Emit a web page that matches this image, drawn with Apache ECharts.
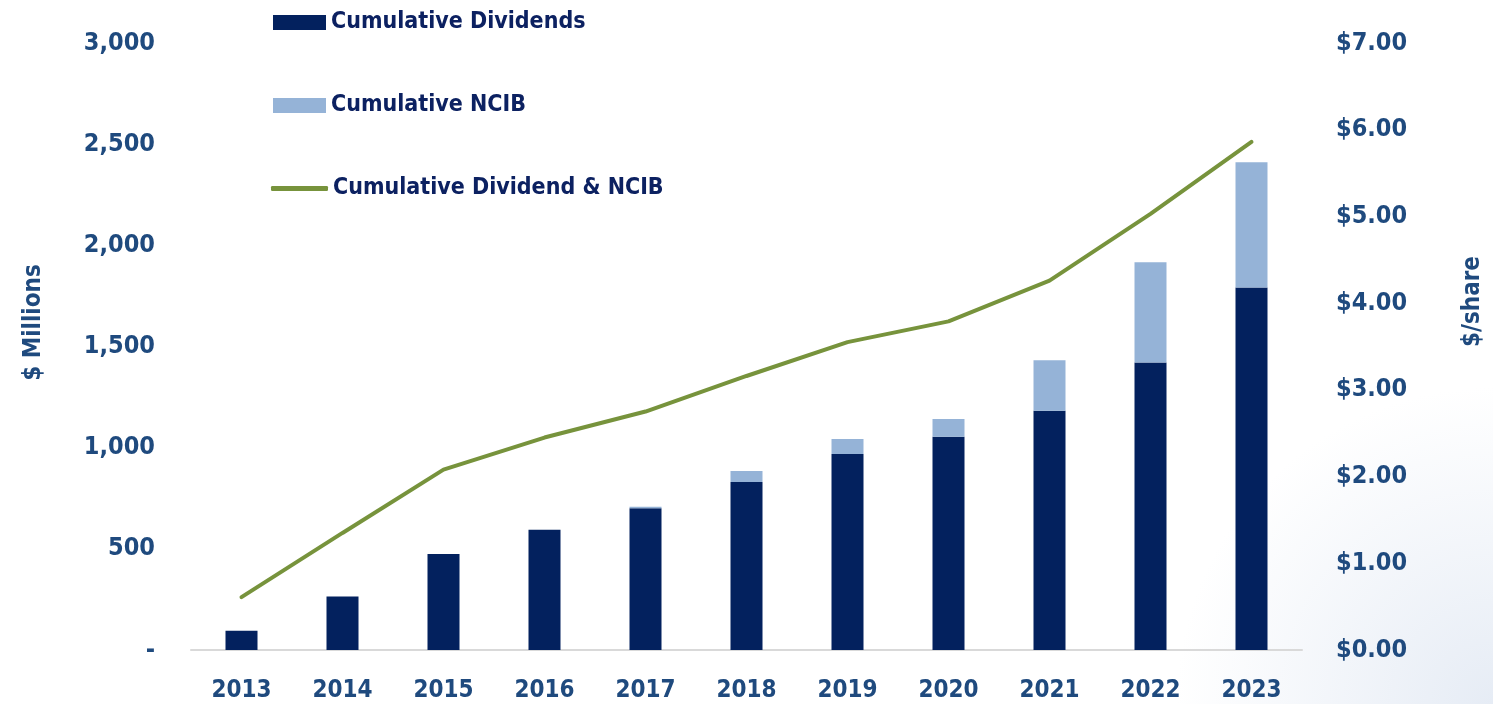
<!DOCTYPE html>
<html>
<head>
<meta charset="utf-8">
<script src="https://cdn.jsdelivr.net/npm/echarts@6/dist/echarts.min.js"></script>
<style>
  html, body { margin: 0; padding: 0; background: #fff; }
  #chart { width: 1493px; height: 704px; }
</style>
</head>
<body>
<div id="chart"></div>
<script>
const years = ['2013', '2014', '2015', '2016', '2017', '2018', '2019', '2020', '2021', '2022', '2023']
const dividends = [95, 264, 475, 594, 700, 830, 969, 1054, 1183, 1421, 1792]
const ncib = [0, 0, 0, 0, 8, 55, 74, 88, 249, 495, 619]
const perShare = [0.61, 1.35, 2.08, 2.45, 2.75, 3.16, 3.55, 3.79, 4.26, 5.03, 5.86]

const font = "'Liberation Sans Narrow', 'Arial Narrow', 'DejaVu Sans Condensed', sans-serif"
const labelColor = '#1F4A7E'
const legendText = { fontFamily: font, fontWeight: 'bold', fontSize: 23, color: '#0C2161' }

const chart = echarts.init(document.getElementById('chart'))
chart.setOption({
  backgroundColor: {
    type: 'radial', x: 1, y: 1, r: 0.45,
    colorStops: [
      { offset: 0, color: '#E6ECF5' },
      { offset: 1, color: '#FFFFFF' }
    ]
  },
  textStyle: { fontFamily: font, fontWeight: 'bold' },
  grid: { left: 191, right: 180, top: 43, bottom: 54 },
  legend: [
    {
      orient: 'vertical',
      left: 268,
      top: 6,
      itemWidth: 53,
      itemHeight: 15,
      itemGap: 60,
      textStyle: legendText,
      data: [
        { name: 'Cumulative Dividends', icon: 'rect' },
        { name: 'Cumulative NCIB', icon: 'rect' }
      ]
    },
    {
      left: 266,
      top: 172,
      itemWidth: 57,
      itemHeight: 5,
      textStyle: legendText,
      data: [{ name: 'Cumulative Dividend & NCIB', icon: 'roundRect' }]
    }
  ],
  xAxis: {
    type: 'category',
    data: years,
    axisLine: { lineStyle: { color: '#D9D9D9', width: 2 } },
    axisTick: { show: false },
    axisLabel: { fontSize: 24, fontWeight: 'bold', color: labelColor, margin: 29, fontFamily: font }
  },
  yAxis: [
    {
      type: 'value',
      min: 0, max: 3000, interval: 500,
      name: '$ Millions',
      nameLocation: 'middle',
      nameRotate: 90,
      nameGap: 145,
      nameTextStyle: { fontSize: 24, fontWeight: 'bold', color: labelColor, fontFamily: font, padding: [0, 0, 0, 48] },
      splitLine: { show: false },
      axisLine: { show: false },
      axisLabel: {
        fontSize: 25, fontWeight: 'bold', color: labelColor, margin: 36, fontFamily: font,
        formatter: v => v === 0 ? '-' : v.toLocaleString('en-US')
      }
    },
    {
      type: 'value',
      min: 0, max: 7, interval: 1,
      name: '$/share',
      nameLocation: 'middle',
      nameRotate: 90,
      nameGap: 159,
      nameTextStyle: { fontSize: 24, fontWeight: 'bold', color: labelColor, fontFamily: font, padding: [0, 0, 0, 90] },
      splitLine: { show: false },
      axisLine: { show: false },
      axisLabel: {
        fontSize: 25, fontWeight: 'bold', color: labelColor, margin: 34, fontFamily: font,
        formatter: v => '$' + v.toFixed(2)
      }
    }
  ],
  series: [
    {
      name: 'Cumulative Dividends',
      type: 'bar',
      stack: 'total',
      barWidth: 32,
      data: dividends,
      itemStyle: { color: '#03215E' }
    },
    {
      name: 'Cumulative NCIB',
      type: 'bar',
      stack: 'total',
      barWidth: 32,
      data: ncib,
      itemStyle: { color: '#95B3D7' }
    },
    {
      name: 'Cumulative Dividend & NCIB',
      type: 'line',
      yAxisIndex: 1,
      data: perShare,
      symbol: 'none',
      lineStyle: { color: '#77933C', width: 4, cap: 'round' },
      itemStyle: { color: '#77933C' }
    }
  ]
})
</script>
</body>
</html>
